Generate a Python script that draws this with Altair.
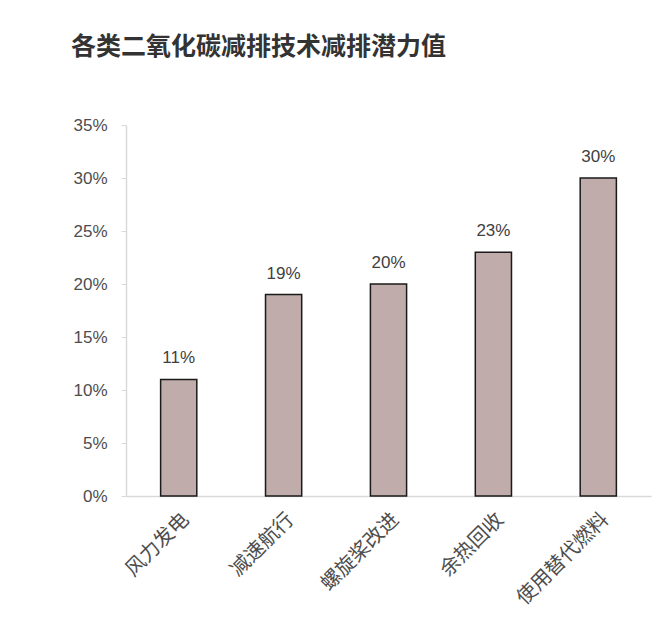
import altair as alt
import pandas as pd

categories = ["风力发电", "减速航行", "螺旋桨改进", "余热回收", "使用替代燃料"]
values = [0.11, 0.19, 0.20, 0.23, 0.30]
y_ticks = [0, 0.05, 0.10, 0.15, 0.20, 0.25, 0.30, 0.35]

df = pd.DataFrame({"cat": categories, "val": values})

x = alt.X("cat:N", sort=categories, title=None,
          scale=alt.Scale(paddingInner=0.655, paddingOuter=0.33),
          axis=alt.Axis(labelAngle=-45, labelFontSize=20, labelFont="Noto Sans CJK SC",
                        labelColor="#4d4d4d", ticks=False, domainColor="#d9d9d9",
                        domainWidth=1.5, labelPadding=13))
y = alt.Y("val:Q", title=None,
          scale=alt.Scale(domain=[0, 0.35], nice=False),
          axis=alt.Axis(values=y_ticks, format=".0%", grid=False, labelFontSize=17,
                        labelFont="Liberation Sans", labelColor="#4d4d4d",
                        domainColor="#d9d9d9", domainWidth=1.5, tickColor="#d9d9d9",
                        tickSize=5, labelPadding=14))

bars = alt.Chart(df).mark_bar(fill="#bfacab", stroke="#1a1a1a", strokeWidth=1.5).encode(x=x, y=y)
labels = alt.Chart(df).mark_text(dy=-16, baseline="alphabetic", fontSize=17,
                                 font="Liberation Sans", color="#404040").encode(
    x=alt.X("cat:N", sort=categories), y="val:Q", text=alt.Text("val:Q", format=".0%"))

chart = (bars + labels).properties(
    width=525, height=371,
    title=alt.TitleParams("各类二氧化碳减排技术减排潜力值", anchor="start", dx=-2, offset=56,
                          fontSize=25, font="Noto Sans CJK SC", fontWeight="bold", color="#333333"),
    autosize=alt.AutoSizeParams(type="none"),
    padding={"left": 118, "top": 117, "right": 10, "bottom": 130},
).configure_view(stroke=None)

chart.save("out.html", embed_options={"renderer": "svg", "actions": False})
